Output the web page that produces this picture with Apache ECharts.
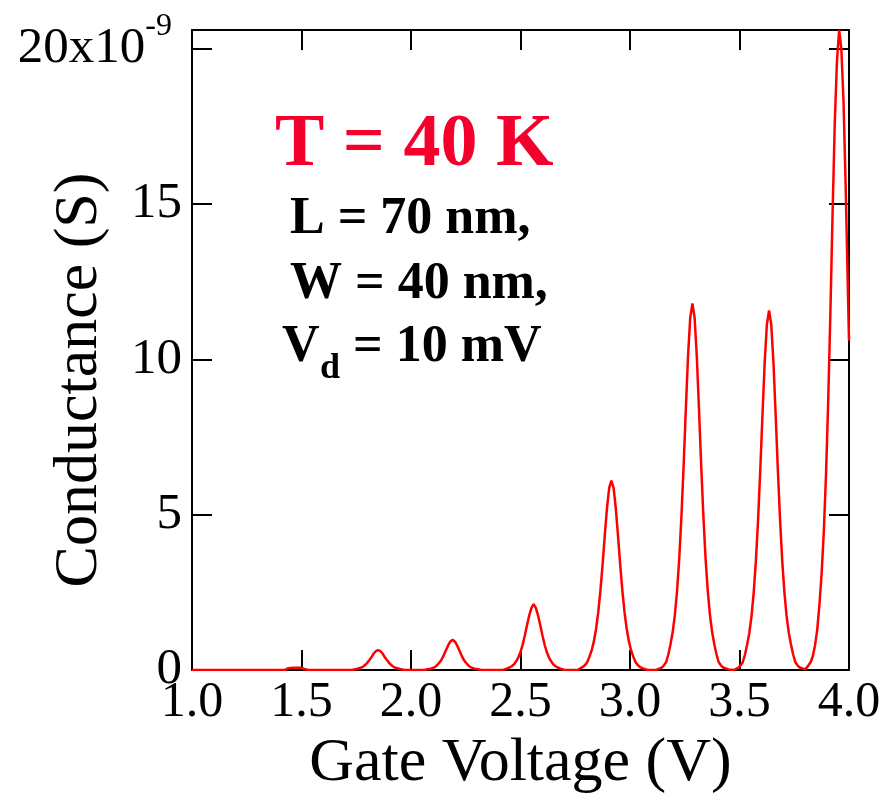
<!DOCTYPE html>
<html>
<head>
<meta charset="utf-8">
<title>Conductance vs Gate Voltage</title>
<script src="https://cdn.jsdelivr.net/npm/echarts@6/dist/echarts.min.js"></script>
<style>
  html, body { margin: 0; padding: 0; background: #fff; }
  #chart { width: 887px; height: 809px; }
</style>
</head>
<body>
<div id="chart"></div>
<script>
// gate voltage (V) sample points
const gateVoltage = [
  1.00, 1.42, 1.43, 1.44, 1.46, 1.50, 1.51, 1.53, 1.73,
  1.75, 1.76, 1.77, 1.78, 1.79, 1.80, 1.81, 1.82, 1.83, 1.84, 1.85,
  1.86, 1.87, 1.88, 1.89, 1.90, 1.91, 1.92, 1.93, 1.94, 1.95, 1.97,
  2.06,
  2.08, 2.09, 2.10, 2.11, 2.12, 2.13, 2.14, 2.15, 2.16, 2.17, 2.18, 2.19,
  2.20, 2.21, 2.22, 2.23, 2.24, 2.25, 2.26, 2.27, 2.28, 2.29, 2.30, 2.32,
  2.42,
  2.44, 2.45, 2.46, 2.47, 2.48, 2.49, 2.50, 2.51, 2.52, 2.53, 2.54, 2.55, 2.56,
  2.57, 2.58, 2.59, 2.60, 2.61, 2.62, 2.63, 2.64, 2.65, 2.66, 2.67, 2.68, 2.70,
  2.76,
  2.775, 2.785, 2.795, 2.805, 2.815, 2.825, 2.835, 2.845, 2.855, 2.865, 2.875, 2.885, 2.895, 2.905, 2.915,
  2.925, 2.935, 2.945, 2.955, 2.965, 2.975, 2.985, 2.995, 3.005, 3.015, 3.025, 3.035, 3.045, 3.055, 3.08,
  3.12,
  3.145, 3.155, 3.165, 3.175, 3.185, 3.195, 3.205, 3.215, 3.225, 3.235, 3.245, 3.255, 3.265, 3.275, 3.285,
  3.295, 3.305, 3.315, 3.325, 3.335, 3.345, 3.355, 3.365, 3.375, 3.385, 3.395, 3.405, 3.415, 3.425, 3.45,
  3.475,
  3.495, 3.505, 3.515, 3.525, 3.535, 3.545, 3.555, 3.565, 3.575, 3.585, 3.595, 3.605, 3.615, 3.625, 3.635,
  3.645, 3.655, 3.665, 3.675, 3.685, 3.695, 3.705, 3.715, 3.725, 3.735, 3.745, 3.755, 3.765, 3.775, 3.80,
  3.815, 3.825, 3.835, 3.845, 3.855, 3.865, 3.875, 3.885, 3.895, 3.905, 3.915, 3.925, 3.935, 3.945, 3.955,
  3.965, 3.975, 3.985, 3.995, 4.00
];

// conductance in units of 1e-9 S
const conductance = [
  0, 0, 0.02, 0.06, 0.07, 0.07, 0.04, 0, 0,
  0.03, 0.05, 0.07, 0.10, 0.16, 0.23, 0.32, 0.42, 0.53, 0.61, 0.64,
  0.61, 0.53, 0.42, 0.32, 0.23, 0.16, 0.10, 0.07, 0.05, 0.03, 0,
  0,
  0.03, 0.04, 0.07, 0.10, 0.16, 0.24, 0.34, 0.48, 0.64, 0.80, 0.92, 0.97,
  0.92, 0.80, 0.64, 0.48, 0.34, 0.24, 0.16, 0.10, 0.07, 0.04, 0.03, 0,
  0,
  0.05, 0.08, 0.12, 0.18, 0.28, 0.40, 0.58, 0.82, 1.12, 1.45, 1.76, 2.00, 2.12,
  2.00, 1.76, 1.45, 1.12, 0.82, 0.58, 0.40, 0.28, 0.18, 0.12, 0.08, 0.05, 0,
  0,
  0.06, 0.10, 0.16, 0.26, 0.43, 0.63, 0.92, 1.32, 1.86, 2.56, 3.41, 4.34, 5.22, 5.86, 6.10,
  5.86, 5.22, 4.34, 3.41, 2.56, 1.86, 1.32, 0.92, 0.63, 0.43, 0.26, 0.16, 0.10, 0.06, 0,
  0,
  0.08, 0.15, 0.25, 0.50, 0.83, 1.22, 1.78, 2.55, 3.60, 4.96, 6.60, 8.40, 10.10, 11.34, 11.80,
  11.34, 10.10, 8.40, 6.60, 4.96, 3.60, 2.55, 1.78, 1.22, 0.83, 0.50, 0.25, 0.15, 0.08, 0.02,
  0,
  0.08, 0.15, 0.25, 0.50, 0.82, 1.20, 1.74, 2.50, 3.53, 4.86, 6.47, 8.23, 9.90, 11.12, 11.57,
  11.12, 9.90, 8.23, 6.47, 4.86, 3.53, 2.50, 1.74, 1.20, 0.82, 0.50, 0.25, 0.15, 0.08, 0.02,
  0.15, 0.25, 0.45, 0.80, 1.30, 2.10, 3.10, 4.45, 6.28, 8.65, 11.5, 14.7, 17.6, 19.6, 20.6,
  20.0, 18.3, 15.5, 12.2, 10.6
];

const yTicks = [0, 5, 10, 15, 20];
const xTitle = 'Gate Voltage (V)';
const yTitle = 'Conductance (S)';

const serif = '"Liberation Serif", "Times New Roman", serif';
const red = '#f5002d';

const chart = echarts.init(document.getElementById('chart'));

const frameLine = { show: true, onZero: false, lineStyle: { color: '#000', width: 2 } };
const tickIn = { show: true, inside: true, length: 20, lineStyle: { color: '#000', width: 2 } };

const option = {
  animation: false,
  backgroundColor: '#fff',
  grid: { left: 192, right: 38, top: 30, bottom: 139, containLabel: false },
  xAxis: [
    {
      type: 'value', min: 1, max: 4, interval: 0.5, position: 'bottom',
      axisLine: frameLine,
      axisTick: tickIn,
      splitLine: { show: false },
      axisLabel: {
        margin: 8, color: '#000', fontFamily: serif, fontSize: 50,
        formatter: v => v.toFixed(1)
      },
      name: xTitle, nameLocation: 'middle', nameGap: 62,
      nameTextStyle: { color: '#000', fontFamily: serif, fontSize: 62 }
    },
    {
      type: 'value', min: 1, max: 4, interval: 0.5, position: 'top',
      axisLine: frameLine, axisTick: tickIn,
      splitLine: { show: false }, axisLabel: { show: false }
    }
  ],
  yAxis: [
    {
      type: 'value', min: 0, max: 20.6, position: 'left',
      axisLine: frameLine,
      axisTick: Object.assign({ customValues: yTicks }, tickIn),
      splitLine: { show: false },
      axisLabel: {
        customValues: yTicks, margin: 10, color: '#000',
        formatter: v => v === 20 ? '{n|20x10}{s|-9}' : '{n|' + v + '}',
        rich: {
          n: { fontFamily: serif, fontSize: 51, lineHeight: 80, color: '#000' },
          s: { fontFamily: serif, fontSize: 32, lineHeight: 34, verticalAlign: 'top', padding: [2, 10, 0, 0], color: '#000' }
        }
      }
    },
    {
      type: 'value', min: 0, max: 20.6, position: 'right',
      axisLine: frameLine,
      axisTick: Object.assign({ customValues: yTicks }, tickIn),
      splitLine: { show: false }, axisLabel: { show: false }
    }
  ],
  graphic: [
    {
      type: 'text', x: 80, y: 380, rotation: Math.PI / 2,
      style: { text: yTitle, font: '62px ' + serif, fill: '#000', align: 'center', verticalAlign: 'middle' }
    },
    {
      type: 'text', x: 275, y: 146,
      style: { text: 'T = 40 K', font: 'bold 74px ' + serif, fill: red, align: 'left', verticalAlign: 'middle' }
    },
    {
      type: 'text', x: 290, y: 220,
      style: { text: 'L = 70 nm,', font: 'bold 52px ' + serif, fill: '#000', align: 'left', verticalAlign: 'middle' }
    },
    {
      type: 'text', x: 290, y: 285,
      style: { text: 'W = 40 nm,', font: 'bold 52px ' + serif, fill: '#000', align: 'left', verticalAlign: 'middle' }
    },
    {
      type: 'text', x: 282, y: 348,
      style: { text: 'V', font: 'bold 52px ' + serif, fill: '#000', align: 'left', verticalAlign: 'middle' }
    },
    {
      type: 'text', x: 320, y: 369,
      style: { text: 'd', font: 'bold 36px ' + serif, fill: '#000', align: 'left', verticalAlign: 'middle' }
    },
    {
      type: 'text', x: 353, y: 348,
      style: { text: '= 10 mV', font: 'bold 52px ' + serif, fill: '#000', align: 'left', verticalAlign: 'middle' }
    }
  ],
  series: [
    {
      type: 'line',
      xAxisIndex: 0, yAxisIndex: 0,
      data: gateVoltage.map((v, i) => [v, conductance[i]]),
      symbol: 'none',
      smooth: false,
      lineStyle: { color: '#ff0000', width: 2.5 },
      clip: true
    }
  ]
};

chart.setOption(option);
</script>
</body>
</html>
